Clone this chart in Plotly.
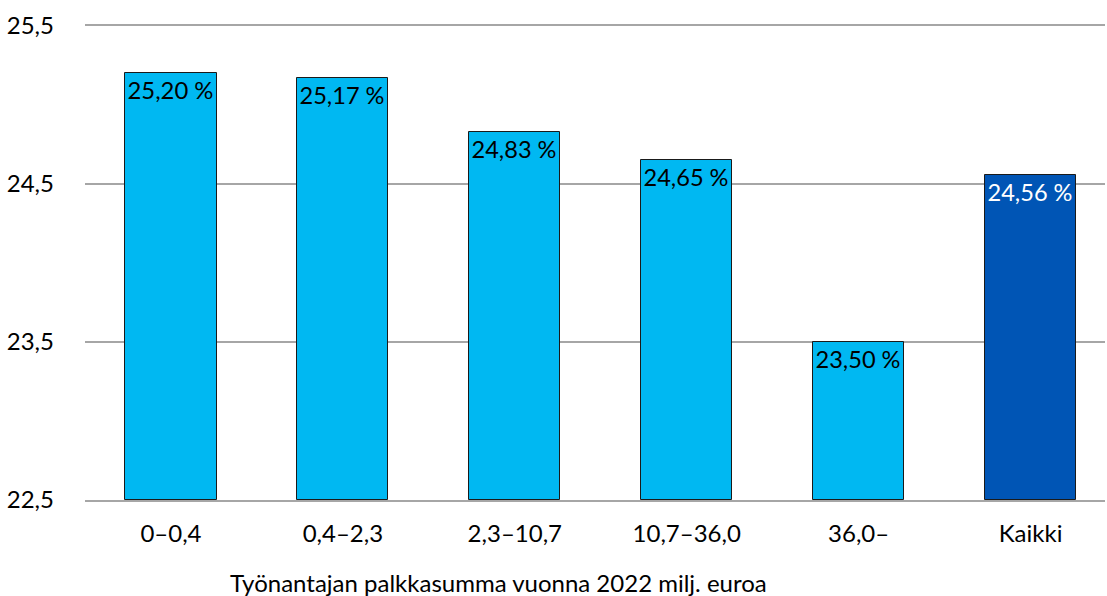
import plotly.graph_objects as go

categories = ["0–0,4", "0,4–2,3", "2,3–10,7", "10,7–36,0", "36,0–", "Kaikki"]
values = [25.20, 25.17, 24.83, 24.65, 23.50, 24.56]
labels = ["25,20 %", "25,17 %", "24,83 %", "24,65 %", "23,50 %", "24,56 %"]
y_tickvals = [22.5, 23.5, 24.5, 25.5]
y_ticktext = ["22,5", "23,5", "24,5", "25,5"]
x_title = "Työnantajan palkkasumma vuonna 2022 milj. euroa"

BASE = 22.5
LIGHT = "#00B8F2"
DARK = "#0055B5"
GRID = "#A6A6A6"
colors = [LIGHT] * 5 + [DARK]
text_colors = ["black"] * 5 + ["white"]
FONT = "Lato"
FS = 24

fig = go.Figure(
    go.Bar(
        x=list(range(len(categories))),
        y=[v - BASE for v in values],
        base=BASE,
        width=0.53,
        marker=dict(color=colors, line=dict(color="#1a1a1a", width=1)),
        text=labels,
        textposition="inside",
        insidetextanchor="end",
        textangle=0,
        insidetextfont=dict(family=FONT, size=FS, color=text_colors),
        cliponaxis=False,
    )
)

fig.update_layout(
    width=1107,
    height=596,
    margin=dict(l=84.5, r=2, t=26, b=96),
    paper_bgcolor="white",
    plot_bgcolor="white",
    showlegend=False,
    bargap=0,
    uniformtext=dict(mode=False),
    font=dict(family=FONT, size=FS, color="black"),
)
fig.update_xaxes(
    range=[-0.5, 5.433],
    tickvals=list(range(len(categories))),
    ticktext=categories,
    showgrid=False,
    zeroline=False,
    showline=True,
    mirror=True,
    linecolor=GRID,
    linewidth=1.5,
    ticks="",
    ticklabelstandoff=11,
    tickfont=dict(family=FONT, size=FS, color="black"),
)
fig.update_yaxes(
    range=[22.5, 25.5],
    tickvals=y_tickvals,
    ticktext=y_ticktext,
    showgrid=True,
    gridcolor=GRID,
    gridwidth=1.5,
    zeroline=False,
    showline=False,
    ticks="",
    ticklabelstandoff=30,
    tickfont=dict(family=FONT, size=FS, color="black"),
)
fig.add_annotation(
    text=x_title,
    xref="paper",
    yref="paper",
    x=0.405,
    y=-0.173,
    xanchor="center",
    yanchor="middle",
    showarrow=False,
    font=dict(family=FONT, size=FS, color="black"),
)

fig.write_html(
    "out.html",
    config={"displayModeBar": False},
    post_script="document.body.style.margin='0';document.body.style.overflow='hidden';",
)
